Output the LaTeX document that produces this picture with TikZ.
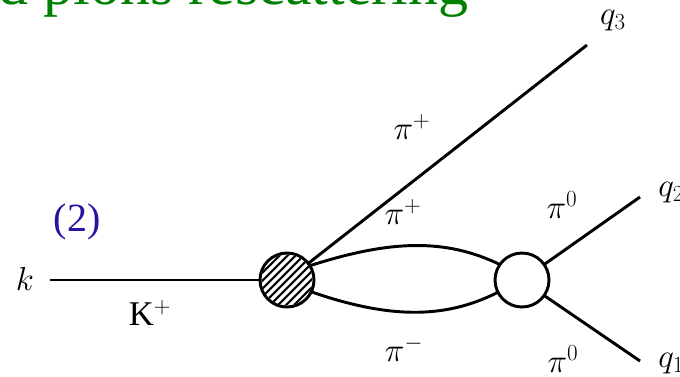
\documentclass[tikz,border=0pt]{standalone}
\usepackage{fontspec}
\setmainfont{Liberation Serif}
\usepackage{xcolor}
\usepackage{tikz}
\usetikzlibrary{calc}
\definecolor{titlegreen}{RGB}{0,128,0}
\definecolor{tagblue}{RGB}{40,20,160}

\begin{document}
\begin{tikzpicture}[x=0.75pt, y=-0.75pt, line width=2.2pt,
    lbl/.style={font=\fontsize{26}{30}\selectfont, inner sep=0pt},
    vertex/.style={circle, draw, line width=2.2pt, minimum size=40.5pt, inner sep=0pt, outer sep=0pt}]
\useasboundingbox (0,0) rectangle (680,376);

% Title
\node[font=\fontsize{45}{50}\selectfont, text=titlegreen, anchor=base east, inner sep=0pt] (title) at (470,4) {d pions rescattering};

% Vertices
\node[vertex] (blob) at (287,280) {};
\node[vertex] (loop) at (522,280) {};
\begin{scope}
    \clip (blob.center) circle (19.1pt);
    \foreach \d in {-64,-56,...,64}
        \draw[line width=1.6pt] ($(blob.center)+(\d-30,30)$) -- ++(60,-60);
\end{scope}

% Incoming kaon
\node[lbl] (k) at (25,279) {$k$};
\coordinate (kin) at (50,280);
\draw (kin) -- (blob.west);
\node[lbl] (kplus) at (150,313) {$\mathrm{K}^+$};

% Outgoing lines
\coordinate (q3end) at (587,45);
\coordinate (q2end) at (640,197);
\coordinate (q1end) at (640,361);
\draw (blob.38) -- (q3end);
\draw (blob.32) .. controls (390,240) and (445,238) .. (loop.145);
\draw (blob.-26) .. controls (390,319) and (445,319) .. (loop.207);
\draw (loop.35) -- (q2end);
\draw (loop.-35) -- (q1end);

% Labels
\node[lbl] (q3) at (613,21) {$q_3$};
\node[lbl, anchor=west] (q2) at (657,193) {$q_2$};
\node[lbl, anchor=west] (q1) at (657,364) {$q_1$};
\node[lbl] (piout) at (412,127) {$\pi^+$};
\node[lbl] (piup) at (403,212) {$\pi^+$};
\node[lbl] (pidown) at (404,349) {$\pi^-$};
\node[lbl] (pizup) at (562,205) {$\pi^0$};
\node[lbl] (pizdown) at (563,359) {$\pi^0$};
\node[lbl, text=tagblue, font=\fontsize{30}{34}\selectfont] (tag) at (77,222) {(2)};
\end{tikzpicture}
\end{document}
